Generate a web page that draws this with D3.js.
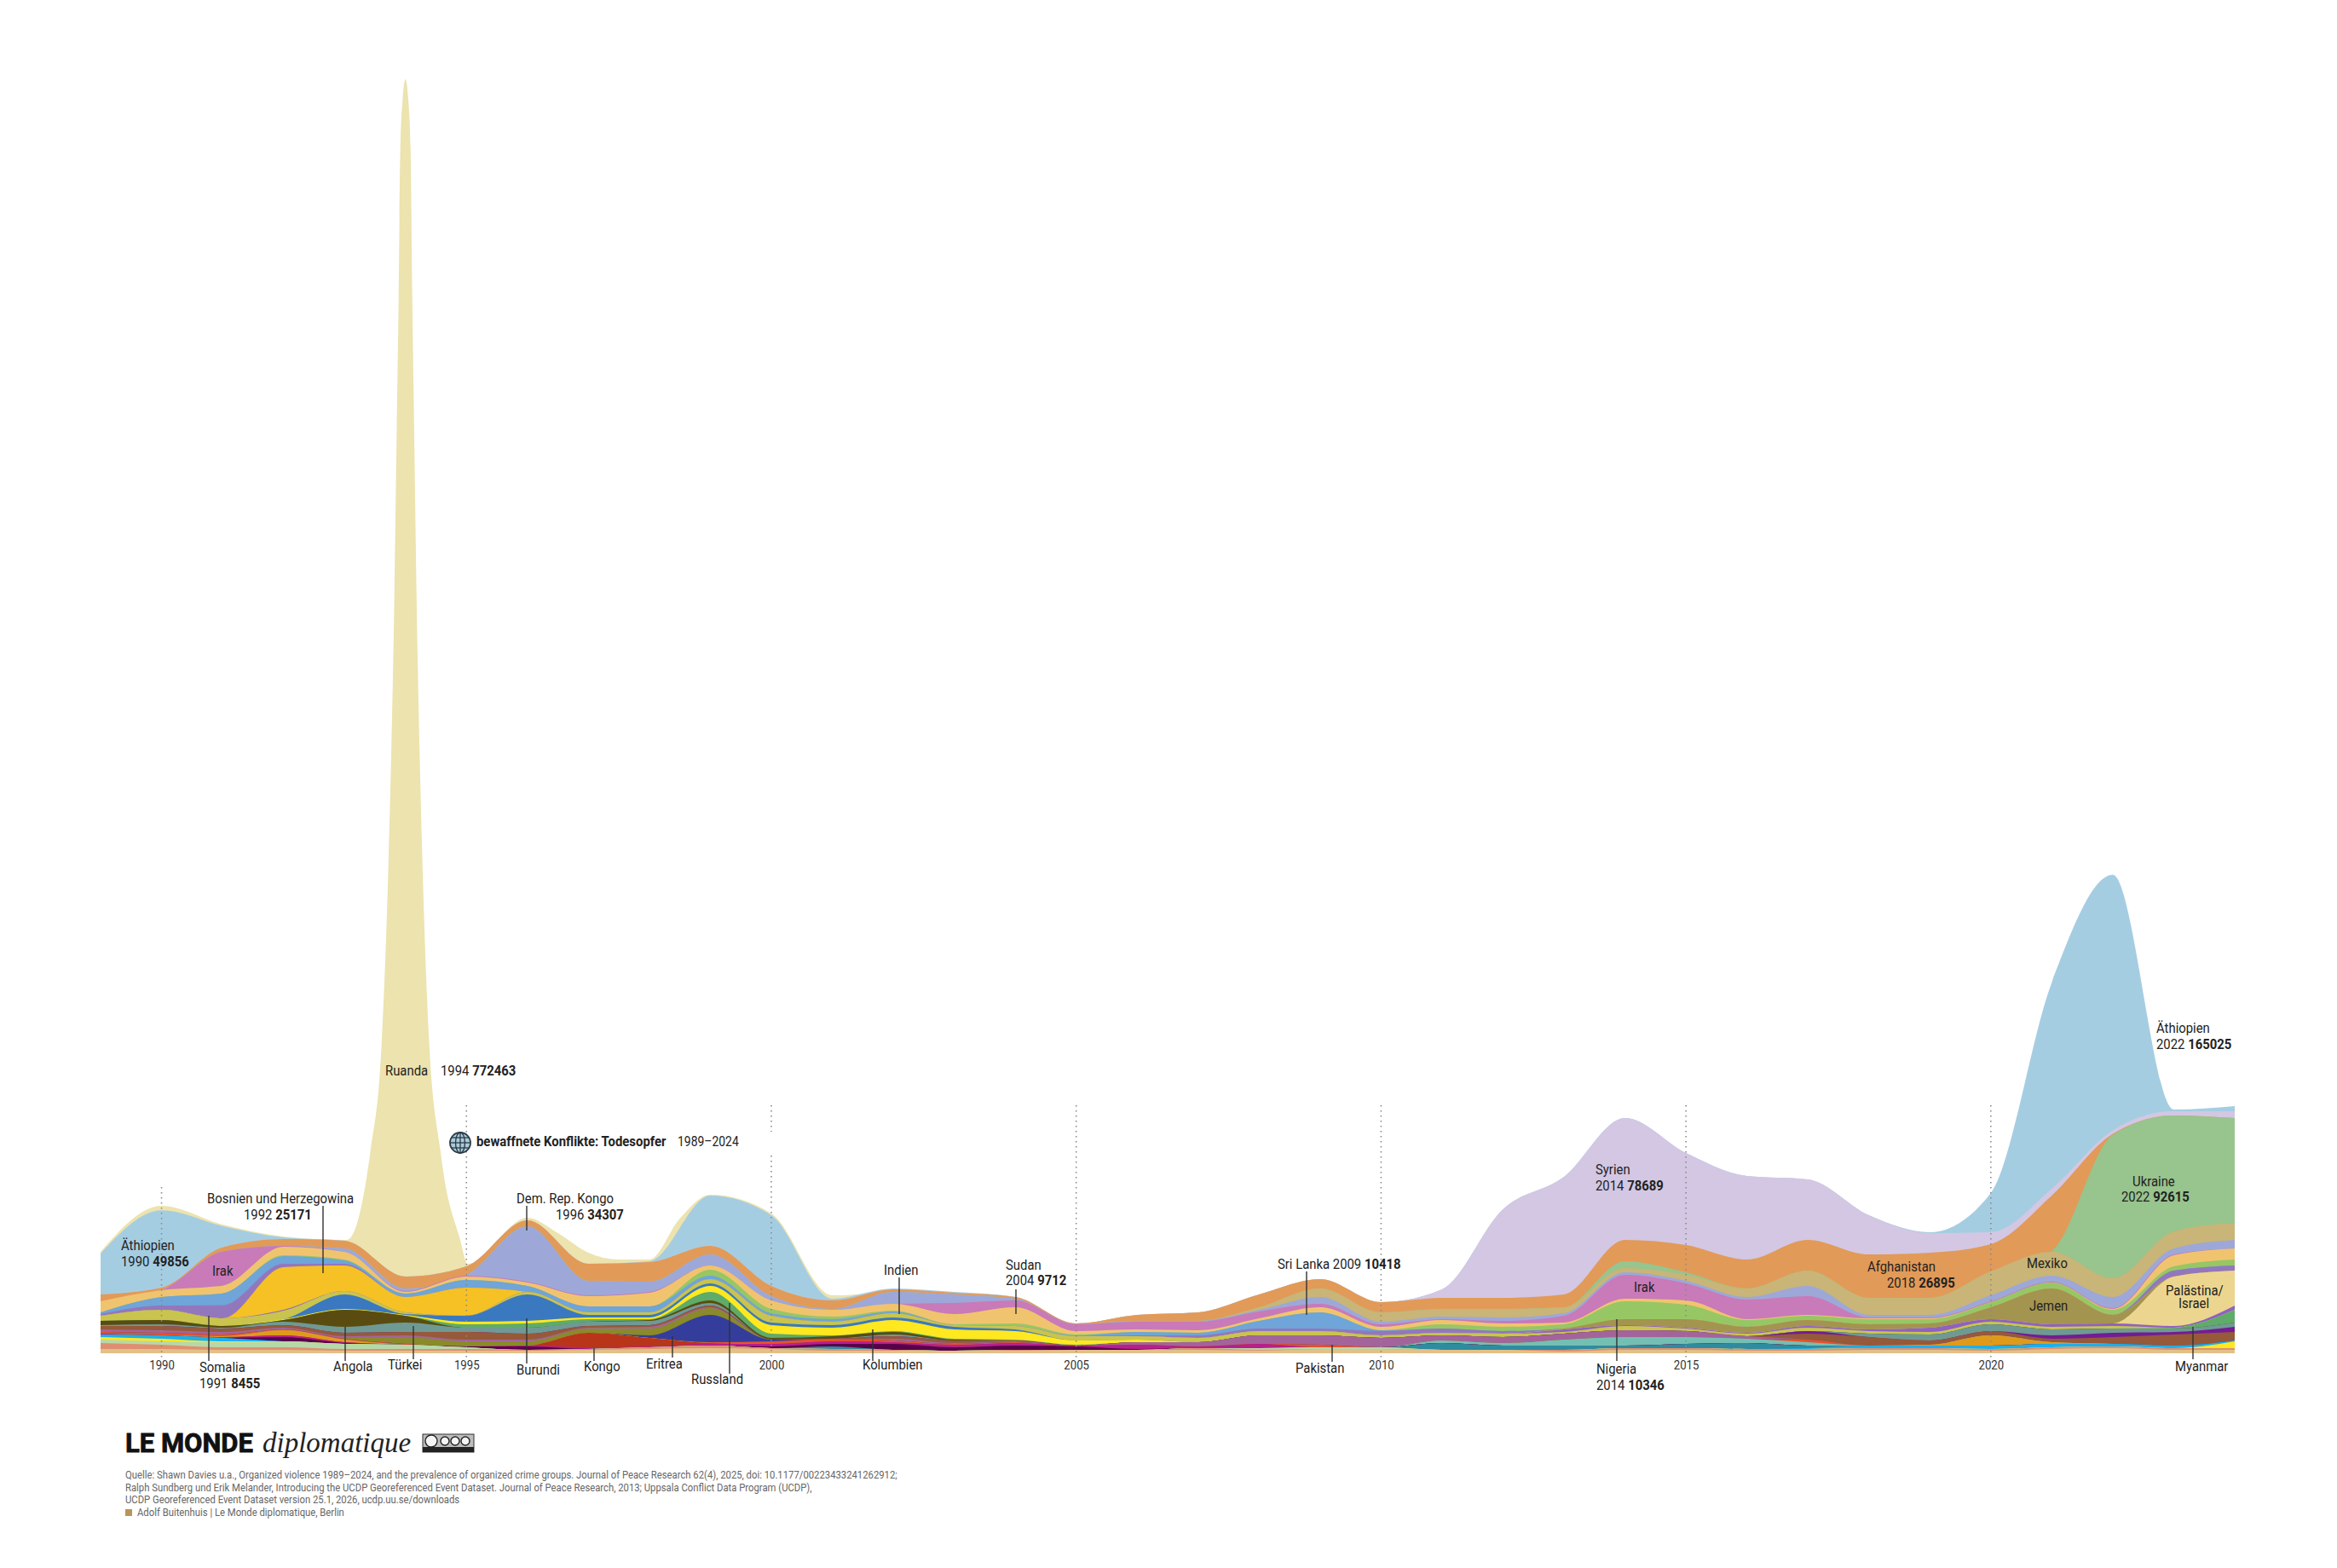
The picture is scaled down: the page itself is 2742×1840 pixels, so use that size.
<!DOCTYPE html>
<html>
<head>
<meta charset="utf-8">
<script src="https://cdn.jsdelivr.net/npm/d3@7"></script>
<style>
	body { margin: 0; background: #fff; }
	text { font-family: "Roboto", sans-serif; fill: #222; }
</style>
</head>
<body>
<div class="canvas"></div>
<script>
const years = d3.range(1989, 2025);
const tickYears = [1990, 1995, 2000, 2005, 2010, 2015, 2020];

// one value per year, 1989 to 2024
const aethiopien = [26400,49856,13750,1100,0,0,0,0,0,550,32450,45650,1100,550,550,0,0,0,0,0,0,0,0,0,0,0,0,0,0,0,550,25300,133100,165025,1100,3300];
const syrien = [0,0,0,0,0,0,0,0,0,0,0,0,0,0,0,0,0,0,0,0,0,0,5500,57200,75900,78689,59400,53900,39050,25300,12650,7700,4400,2200,2750,4400];
const afghanistan = [4400,1650,2750,4400,4950,7700,5500,3850,11000,12650,5500,6600,5500,1650,1100,1100,550,3850,5500,8250,6050,6600,7150,7150,8250,13750,17600,18700,19800,28000,29150,17600,35750,550,0,0];
const ukraine = [0,0,0,0,0,0,0,0,0,0,0,0,0,0,0,0,0,0,0,0,0,0,0,0,0,4400,1650,0,0,0,0,0,550,92615,74800,67650];
const mexiko = [0,0,0,0,0,0,0,0,0,0,0,0,0,0,0,0,0,0,0,1650,5500,6050,4950,5500,3850,2750,3850,5500,9900,11000,11000,15400,15400,12100,11000,11000];
const drKongo = [0,0,0,0,2200,1650,550,35750,9350,6600,7150,2750,550,7700,5500,1100,0,550,550,1100,4400,1650,1650,2200,1650,1650,1650,1650,6600,1650,1650,3850,3850,7150,3850,5500];
const irak = [0,0,22000,550,0,550,550,550,550,550,0,0,0,0,7150,4400,4400,4950,5500,4400,2200,1650,550,1650,4400,15400,11000,12650,12100,550,550,550,550,550,550,0];
const sudan = [7150,4400,4950,5500,4950,1100,2200,2200,6600,8800,2750,5500,4400,4400,6600,10500,2200,1650,1650,1650,3300,2200,2750,2200,1100,1650,2750,550,550,550,550,0,0,550,7150,7150];
const nigeria = [0,0,0,550,550,0,0,0,0,0,3850,2750,1650,550,550,1650,550,0,0,0,0,0,2750,2750,2750,11500,9350,4400,2750,3300,2750,3300,3850,3300,2750,3850];
const sriLanka = [1100,5500,7700,4950,2200,2200,4950,3850,3850,3850,2200,1650,1650,1100,0,0,550,2200,1650,4950,10418,550,0,0,0,0,0,0,0,0,0,0,0,0,0,0];
const somalia = [1100,2750,8455,2200,1100,0,0,0,0,0,0,0,0,0,0,0,0,550,1650,1650,1650,2750,2750,1650,0,0,0,0,0,0,0,0,0,0,3850,3300];
const bosnien = [0,0,0,27500,16500,9900,18150,0,0,0,0,0,0,0,0,0,0,0,0,0,0,0,0,0,0,0,0,0,0,0,0,0,0,0,0,0];
const jemen = [0,0,0,0,0,0,0,0,0,0,0,0,0,0,0,0,0,0,0,0,0,0,0,0,550,3850,5500,3850,3850,3300,2750,7700,23100,5500,0,0];
const palaestina = [0,0,0,0,0,0,0,0,0,0,0,0,0,0,0,0,0,0,0,0,0,0,0,0,0,0,0,0,0,0,0,0,0,0,31900,22550];
const violett = [0,0,0,550,0,0,0,0,0,0,0,0,0,0,0,0,0,0,0,0,0,0,0,0,1650,550,550,550,1100,1100,2750,1650,1650,1650,1100,2750];
const gelbgruen = [3300,6600,4950,5500,2200,1100,0,1650,1650,1650,2750,4400,2200,2750,1100,2200,2750,2200,2750,2750,2750,1650,1650,2200,1100,2750,1650,1650,2200,1650,1650,1650,1650,1650,0,0];
const burundi = [0,0,0,0,9350,550,3850,17050,1650,1650,1650,1650,1650,1650,1650,1100,0,0,0,0,0,0,0,0,0,0,0,0,0,0,0,0,0,0,0,0];
const gelb = [0,0,0,550,550,550,1650,1650,1100,1100,3850,5500,4950,7150,6050,5500,2750,1650,0,0,0,0,0,0,0,0,0,0,0,0,0,0,0,0,0,0];
const gruen = [0,0,0,0,0,0,2200,2750,1650,550,5500,2750,550,550,550,550,550,0,0,0,0,0,0,0,0,0,0,0,0,0,0,0,0,0,550,8250];
const angola = [2750,2750,1100,1100,11000,4400,0,0,0,550,1650,1100,1650,1650,550,0,0,0,0,0,0,0,0,0,0,0,0,0,0,0,0,0,0,0,0,0];
const tuerkei = [550,1100,550,2200,3850,6050,2750,3850,2750,2750,1650,0,0,1100,0,0,0,0,0,0,0,0,0,0,0,0,0,0,0,2200,3850,4400,3850,2750,2200,2750];
const myanmar = [0,0,0,0,0,0,0,0,0,0,0,0,0,0,0,0,0,0,0,0,0,0,0,0,0,0,0,0,1650,0,0,0,2200,2750,1650,3300];
const braun = [2200,2750,2200,1650,2200,2200,4950,3850,1100,1100,1100,0,0,1650,1650,550,0,0,0,0,0,0,0,0,0,0,0,0,3850,5500,2750,2750,2200,4400,7150,5500];
const pakistan = [1650,1650,1650,1100,1100,1100,1100,1100,550,1100,550,0,0,1100,550,550,0,1650,2750,5500,6050,6050,3300,3850,3850,4400,3850,1650,0,0,0,0,0,0,0,0];
const oliv = [0,0,0,0,550,4400,3300,2750,2750,4400,4400,0,0,0,0,0,0,0,0,0,0,0,0,0,0,0,0,0,0,0,0,0,0,0,0,0];
const eritrea = [0,0,0,0,0,0,0,0,0,1650,17600,1100,0,0,0,0,0,0,0,0,0,0,0,0,0,0,0,0,0,0,0,0,0,0,0,0];
const rot = [1100,1650,1100,550,550,550,0,0,0,0,550,1650,1650,1100,550,550,0,0,0,0,1650,0,0,0,0,0,0,0,1650,0,0,0,0,0,0,0];
const tuerkis = [0,0,0,0,0,0,0,0,0,0,0,0,0,0,0,0,0,0,0,0,0,0,1650,1650,3850,5500,4400,2750,2200,0,0,0,0,0,0,0];
const gold = [0,0,550,3300,1650,0,0,0,0,0,0,0,0,0,0,0,0,0,0,0,0,0,0,0,0,0,0,0,0,0,550,6600,1100,0,0,0];
const kongo = [0,0,0,0,0,0,0,0,9350,5500,550,0,0,0,0,0,0,0,0,0,0,0,0,0,0,0,0,0,0,0,0,0,0,0,0,0];
const magenta = [550,0,550,1100,550,0,0,550,1100,550,1100,1650,1650,1100,1650,1650,550,2750,1100,2750,0,0,0,0,0,0,0,0,0,0,0,0,0,0,0,0];
const maroon = [0,0,0,2750,550,0,550,2200,0,0,0,1100,1650,3850,2200,2750,2200,550,0,0,0,0,0,0,0,0,0,0,0,0,0,0,0,0,0,0];
const dunkelteal = [0,0,0,0,0,0,0,0,0,0,0,0,1650,0,0,0,0,0,0,0,0,0,4400,2750,2750,1650,2750,3850,1650,0,0,0,0,0,0,0];
const himmelblau = [1650,2200,2200,0,0,0,0,0,0,0,0,0,0,0,0,0,0,0,0,0,0,0,0,0,0,0,0,0,550,1650,1650,2200,2200,1650,1650,550];
const gelbUnten = [1650,1650,550,0,0,0,0,0,0,0,0,0,0,0,0,0,0,0,0,0,0,0,0,0,0,0,0,0,0,0,0,0,0,0,0,4400];
const hellgruen = [2200,2200,3300,3850,3300,2750,1100,0,0,0,0,0,0,0,0,0,0,0,0,1100,1100,1100,0,0,0,0,0,0,0,0,0,0,0,0,0,0];
const lachs = [3850,2750,1650,1650,1100,1100,1100,550,550,1100,1650,550,1100,550,0,550,0,0,1100,550,0,0,0,0,1100,1100,1100,1100,1100,1100,1100,1100,1100,1100,1100,1100];
const basis = [2750,2750,2200,2200,1650,1650,1650,1650,2200,2750,3300,2750,1650,1650,1650,1650,2200,2200,2200,1650,2750,2750,2200,2200,1100,2200,2200,1650,1650,2200,2200,1650,2750,3300,2200,2200];

// Ruanda rises too fast for a yearly grid, so its outline has its own time points
const ruandaTimes = [1989,1990,1991,1992,1992.5,1993.04,1993.427,1993.61,1993.706,1993.77,1993.818,1993.853,1993.888,1993.916,1993.95,1994,1994.05,1994.084,1994.112,1994.147,1994.182,1994.23,1994.294,1994.39,1994.573,1994.61,1994.89,1995.02,1996,1996.5,1997,1997.5,1998,1998.5,1999,2000,2001,2002];
const ruandaOutline = [65450,95150,83050,75350,73700,73150,130900,200200,295900,392150,488400,584650,680900,777150,807400,822250,807400,777150,680900,584650,488400,392150,295900,200200,130900,119900,74250,57750,87450,77550,64900,60500,60500,86900,102300,90200,37400,40150];

// top to bottom
const layers = [
	["Äthiopien", aethiopien, "#a5cde2"],
	["Syrien", syrien, "#d3c7e3"],
	["Afghanistan", afghanistan, "#e29a58"],
	["Ukraine", ukraine, "#98c48d"],
	["Mexiko", mexiko, "#c9b577"],
	["Dem. Rep. Kongo", drKongo, "#9da8d8"],
	["Irak", irak, "#c97ab8"],
	["Sudan", sudan, "#f0c46f"],
	["Nigeria", nigeria, "#97c764"],
	["Sri Lanka", sriLanka, "#6fa5d8"],
	["Somalia", somalia, "#9377bd"],
	["Bosnien und Herzegowina", bosnien, "#f5c125"],
	["Jemen", jemen, "#a3944f"],
	["Palästina/Israel", palaestina, "#ecd68f"],
	["violett", violett, "#8f62c0"],
	["gelbgruen", gelbgruen, "#c9c44e"],
	["Burundi", burundi, "#3a78c0"],
	["gelb", gelb, "#ffe81f"],
	["gruen", gruen, "#5fab6a"],
	["Angola", angola, "#5a4c10"],
	["Türkei", tuerkei, "#6f9a94"],
	["Myanmar", myanmar, "#741c94"],
	["braun", braun, "#96593a"],
	["Pakistan", pakistan, "#a3649b"],
	["oliv", oliv, "#8a8a2a"],
	["Eritrea", eritrea, "#353d9c"],
	["rot", rot, "#e8502a"],
	["tuerkis", tuerkis, "#74bfb3"],
	["gold", gold, "#e09a1a"],
	["Kongo", kongo, "#b8351a"],
	["magenta", magenta, "#b81f8c"],
	["maroon", maroon, "#57004a"],
	["dunkelteal", dunkelteal, "#2f8b9f"],
	["himmelblau", himmelblau, "#1cb0ec"],
	["gelbUnten", gelbUnten, "#ffe81f"],
	["hellgruen", hellgruen, "#b7d8a8"],
	["lachs", lachs, "#df8f70"],
	["basis", basis, "#e3c088"]
];

const svg = d3.select('.canvas').append('svg')
	.attr('width', 2742)
	.attr('height', 1840)
	.style('display', 'block');

const x = d3.scaleLinear().domain([1989, 2024]).range([118, 2622]);
const y = d3.scaleLinear().domain([0, 822250]).range([1588, 93]);

// the reference type is condensed, so squeeze Roboto sideways
const squeeze = (px, py, factor) => `translate(${px}, ${py}) scale(${factor}, 1)`;

// table for the stack
const rows = years.map((year, i) => {
	const row = { year };
	layers.forEach(l => { row[l[0]] = l[1][i]; });
	return row;
});

const keys = layers.map(l => l[0]).reverse();
const colour = d3.scaleOrdinal().domain(layers.map(l => l[0])).range(layers.map(l => l[2]));
const stacked = d3.stack().keys(keys)(rows);

// every layer is filled down to the baseline, top one first
const area = d3.area()
	.curve(d3.curveMonotoneX)
	.x(d => x(d.data.year))
	.y0(y(0))
	.y1(d => y(d[1]));

const ruandaArea = d3.area()
	.curve(d3.curveMonotoneX)
	.x(d => x(d.t))
	.y0(y(0))
	.y1(d => y(d.v));

svg.append('path')
	.datum(ruandaTimes.map((t, i) => ({ t, v: ruandaOutline[i] })))
	.attr('fill', '#ece3ae')
	.attr('d', ruandaArea);

svg.append('g')
	.selectAll('path')
	.data(stacked.slice().reverse())
	.join('path')
	.attr('fill', d => colour(d.key))
	.attr('d', area);

// dotted year lines
const dotted = (year, top, bottom) => svg.append('line')
	.attr('x1', x(year)).attr('x2', x(year))
	.attr('y1', top).attr('y2', bottom)
	.attr('stroke', '#8a8a8a')
	.attr('stroke-width', 1.6)
	.attr('stroke-dasharray', '1.6 4.4');

dotted(1990, 1393, 1595);
dotted(1995, 1297, 1595);
dotted(2000, 1297, 1328);
dotted(2000, 1356, 1595);
[2005, 2010, 2015, 2020].forEach(year => dotted(year, 1297, 1595));

// year axis
const axis = d3.axisBottom(x)
	.tickValues(tickYears)
	.tickFormat(d3.format('d'))
	.tickSize(0);

const axisGroup = svg.append('g')
	.attr('transform', `translate(0, ${y(0)})`)
	.call(axis);
axisGroup.select('.domain').remove();
axisGroup.selectAll('text')
	.attr('y', 19)
	.attr('dy', 0)
	.attr('transform', 'scale(0.88, 1)')
	.style('font-family', '"Roboto", sans-serif')
	.style('font-size', '15px')
	.style('fill', '#333');

// leader lines: x, top, bottom
const leaders = [
	[379, 1415, 1494], [618, 1415, 1444], [245, 1544, 1597], [405, 1557, 1597],
	[485, 1556, 1595], [618, 1547, 1600], [697, 1582, 1597], [789, 1568, 1593],
	[856, 1529, 1612], [1055, 1499, 1542], [1192, 1513, 1542], [1533, 1492, 1543],
	[1024, 1560, 1597], [1563, 1578, 1598], [1897, 1548, 1597], [2573, 1557, 1595]
];

svg.append('g')
	.selectAll('line')
	.data(leaders)
	.join('line')
	.attr('x1', d => d[0]).attr('x2', d => d[0])
	.attr('y1', d => d[1]).attr('y2', d => d[2])
	.attr('stroke', '#333')
	.attr('stroke-width', 1.4);

// labels: x, baseline, plain text, bold number
const labels = [
	[142, 1467, "Äthiopien", ""],
	[142, 1486, "1990 ", "49856"],
	[249, 1497, "Irak", ""],
	[243, 1412, "Bosnien und Herzegowina", ""],
	[286, 1431, "1992 ", "25171"],
	[606, 1412, "Dem. Rep. Kongo", ""],
	[652, 1431, "1996 ", "34307"],
	[234, 1610, "Somalia", ""],
	[234, 1629, "1991 ", "8455"],
	[391, 1609, "Angola", ""],
	[455, 1607, "Türkei", ""],
	[606, 1613, "Burundi", ""],
	[685, 1609, "Kongo", ""],
	[758, 1606, "Eritrea", ""],
	[811, 1624, "Russland", ""],
	[1037, 1496, "Indien", ""],
	[1180, 1490, "Sudan", ""],
	[1180, 1508, "2004 ", "9712"],
	[1499, 1489, "Sri Lanka 2009 ", "10418"],
	[1012, 1607, "Kolumbien", ""],
	[1520, 1611, "Pakistan", ""],
	[1872, 1378, "Syrien", ""],
	[1872, 1397, "2014 ", "78689"],
	[1917, 1516, "Irak", ""],
	[2191, 1492, "Afghanistan", ""],
	[2214, 1511, "2018 ", "26895"],
	[2378, 1488, "Mexiko", ""],
	[2381, 1538, "Jemen", ""],
	[2502, 1392, "Ukraine", ""],
	[2489, 1410, "2022 ", "92615"],
	[2541, 1520, "Palästina/", ""],
	[2556, 1535, "Israel", ""],
	[1873, 1612, "Nigeria", ""],
	[1873, 1631, "2014 ", "10346"],
	[2552, 1609, "Myanmar", ""],
	[2530, 1212, "Äthiopien", ""],
	[2530, 1231, "2022 ", "165025"],
	[452, 1262, "Ruanda", ""],
	[517, 1262, "1994 ", "772463"]
];

const labelText = svg.append('g')
	.selectAll('text')
	.data(labels)
	.join('text')
	.attr('transform', d => squeeze(d[0], d[1], 0.875))
	.style('font-size', '17px');

labelText.append('tspan').text(d => d[2]);
labelText.append('tspan').attr('font-weight', 'bold').text(d => d[3]);

// headline with globe
const globe = svg.append('g')
	.attr('transform', 'translate(540, 1341)')
	.attr('fill', 'none')
	.attr('stroke', '#2d3a44')
	.attr('stroke-width', 1.3);
globe.append('circle').attr('r', 12).attr('fill', '#a9cbdc').attr('stroke-width', 1.8);
globe.append('ellipse').attr('rx', 5.5).attr('ry', 12);
globe.append('line').attr('x1', -12).attr('x2', 12);
globe.append('line').attr('y1', -12).attr('y2', 12);
globe.append('line').attr('x1', -10.5).attr('x2', 10.5).attr('y1', -6).attr('y2', -6);
globe.append('line').attr('x1', -10.5).attr('x2', 10.5).attr('y1', 6).attr('y2', 6);

svg.append('text')
	.attr('transform', squeeze(559, 1345, 0.875))
	.attr('font-weight', 'bold')
	.style('font-size', '17px')
	.text('bewaffnete Konflikte: Todesopfer');
svg.append('text')
	.attr('transform', squeeze(795, 1345, 0.82))
	.style('font-size', '17px')
	.text('1989–2024');

// logo
svg.append('text')
	.attr('x', 147).attr('y', 1704)
	.attr('font-weight', 'bold')
	.attr('stroke', '#111')
	.attr('stroke-width', 0.8)
	.style('font-size', '31px')
	.style('fill', '#111')
	.text('LE MONDE');
svg.append('text')
	.attr('x', 308).attr('y', 1704)
	.style('font-family', '"Liberation Serif", serif')
	.style('font-style', 'italic')
	.style('font-size', '33px')
	.text('diplomatique');

// cc badge
const badge = svg.append('g').attr('transform', 'translate(496, 1683)');
badge.append('rect').attr('width', 60).attr('height', 21).attr('fill', '#bdbdbd').attr('stroke', '#333');
badge.append('rect').attr('y', 15).attr('width', 60).attr('height', 6).attr('fill', '#222');
badge.selectAll('circle')
	.data([10, 26, 38, 50])
	.join('circle')
	.attr('cx', d => d).attr('cy', 8)
	.attr('r', (d, i) => i ? 5 : 7)
	.attr('fill', '#f4f4f4')
	.attr('stroke', '#222')
	.attr('stroke-width', 1.4);

// source lines
const sourceLines = [
	"Quelle: Shawn Davies u.a., Organized violence 1989–2024, and the prevalence of organized crime groups. Journal of Peace Research 62(4), 2025, doi: 10.1177/00223433241262912;",
	"Ralph Sundberg und Erik Melander, Introducing the UCDP Georeferenced Event Dataset. Journal of Peace Research, 2013; Uppsala Conflict Data Program (UCDP),",
	"UCDP Georeferenced Event Dataset version 25.1, 2026, ucdp.uu.se/downloads"
];

svg.append('g')
	.selectAll('text')
	.data(sourceLines)
	.join('text')
	.attr('transform', (d, i) => squeeze(147, 1735 + i * 14.6, 0.904))
	.style('font-size', '12.5px')
	.style('fill', '#666')
	.text(d => d);

svg.append('rect')
	.attr('x', 147).attr('y', 1771)
	.attr('width', 8).attr('height', 8)
	.attr('fill', '#b8965a');
svg.append('text')
	.attr('transform', squeeze(161, 1779, 0.904))
	.style('font-size', '12.5px')
	.style('fill', '#666')
	.text('Adolf Buitenhuis | Le Monde diplomatique, Berlin');
</script>
</body>
</html>
